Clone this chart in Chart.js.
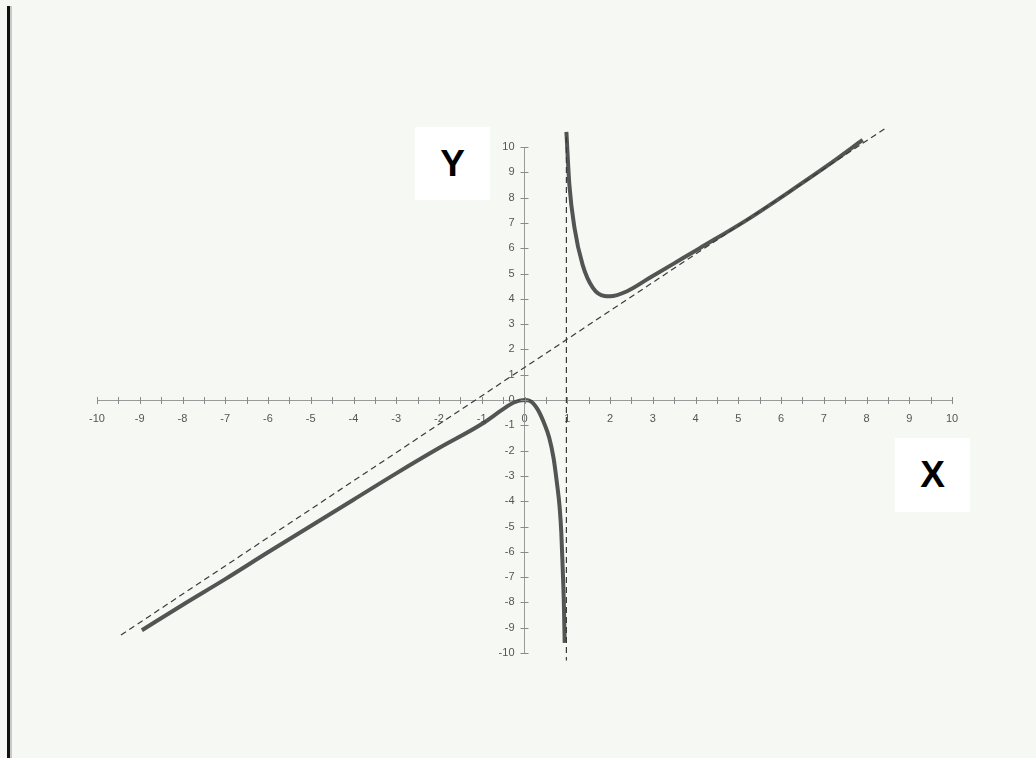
<!DOCTYPE html>
<html>
<head>
<meta charset="utf-8">
<script src="https://cdn.jsdelivr.net/npm/chart.js@4.4.1/dist/chart.umd.min.js"></script>
<style>
    html, body { margin: 0; padding: 0; }
    body { width: 1036px; height: 758px; background: #f6f9f3; position: relative; overflow: hidden; }
    #wrap { position: absolute; left: 0; top: 0; width: 1036px; height: 758px; }
    .edge { position: absolute; left: 7px; top: 6px; width: 3px; height: 752px; background: #111; border-right: 2px solid #c9c9c9; }
    .axisName { position: absolute; background: #ffffff; font: bold 37px 'Liberation Sans', Arial, sans-serif; color: #000;
                display: flex; align-items: center; justify-content: center; }
</style>
</head>
<body>
<div class="edge"></div>
<div id="wrap"><canvas id="curveChart"></canvas></div>
<div class="axisName" style="left:415px; top:127px; width:75px; height:73px;">Y</div>
<div class="axisName" style="left:895px; top:438px; width:75px; height:74px;">X</div>
<script>
// values
const leftX = [-8.95, -8, -7, -6, -5, -4, -3, -2, -1, -0.5, -0.25, 0, 0.12, 0.3, 0.45, 0.58, 0.68, 0.76, 0.82, 0.86, 0.89, 0.92, 0.94];
const leftY = [-9.1, -8.1, -7.08, -6.02, -4.98, -3.94, -2.9, -1.9, -0.95, -0.36, -0.1, 0, -0.03, -0.35, -0.88, -1.5, -2.3, -3.3, -4.2, -5.2, -6.5, -8.0, -9.6];
const rightX = [0.98, 1.05, 1.17, 1.36, 1.6, 1.87, 2.0, 2.4, 2.92, 3.5, 4.1, 5.27, 6.43, 7.2, 7.91];
const rightY = [10.6, 8.5, 6.8, 5.34, 4.43, 4.11, 4.1, 4.3, 4.82, 5.4, 6.0, 7.19, 8.5, 9.4, 10.28];
const slantX = [-9.44, 8.45];
const slantY = [-9.29, 10.75];
const asymX = [0.98, 0.98];
const asymY = [10.4, -10.3];
const xRange = [-10, 10];
const yRange = [-10, 10];

const labelFont = "11px 'Liberation Sans', Arial, sans-serif";

function pts(xs, ys) {
    return xs.map((x, i) => ({ x: x, y: ys[i] }));
}

// tick marks crossing the axis lines, plus the y labels left of the axis
const crossTicks = {
    id: 'crossTicks',
    afterDatasetsDraw(chart) {
        const ctx = chart.ctx;
        const sx = chart.scales.x, sy = chart.scales.y;
        const x0 = sx.getPixelForValue(0), y0 = sy.getPixelForValue(0);
        ctx.save();
        ctx.strokeStyle = '#8a8a8a';
        ctx.lineWidth = 1;
        ctx.beginPath();
        sx.ticks.forEach(t => {
            const px = Math.round(sx.getPixelForValue(t.value)) + 0.5;
            ctx.moveTo(px, y0 - 3);
            ctx.lineTo(px, y0 + 4);
        });
        sy.ticks.forEach(t => {
            const py = Math.round(sy.getPixelForValue(t.value)) + 0.5;
            ctx.moveTo(x0 - 4, py);
            ctx.lineTo(x0 + 4, py);
        });
        ctx.stroke();
        ctx.fillStyle = '#555';
        ctx.font = labelFont;
        ctx.textAlign = 'right';
        ctx.textBaseline = 'middle';
        sy.ticks.forEach(t => {
            ctx.fillText(t.label, x0 - 10, sy.getPixelForValue(t.value));
        });
        ctx.restore();
    }
};

const curveStyle = {
    showLine: true,
    borderColor: 'rgba(60, 60, 60, 0.88)',
    borderWidth: 4,
    pointRadius: 0,
    cubicInterpolationMode: 'monotone',
    clip: false
};
const dashStyle = {
    showLine: true,
    borderColor: '#3a3a3a',
    borderWidth: 1.2,
    borderDash: [6, 4],
    pointRadius: 0,
    clip: false
};

new Chart(document.getElementById('curveChart'), {
    type: 'scatter',
    data: {
        datasets: [
            Object.assign({ label: 'slant asymptote', data: pts(slantX, slantY) }, dashStyle),
            Object.assign({ label: 'vertical asymptote', data: pts(asymX, asymY) }, dashStyle),
            Object.assign({ label: 'left branch', data: pts(leftX, leftY) }, curveStyle),
            Object.assign({ label: 'right branch', data: pts(rightX, rightY) }, curveStyle)
        ]
    },
    options: {
        responsive: true,
        maintainAspectRatio: false,
        animation: false,
        layout: { padding: { left: 97, right: 84, top: 147, bottom: 105 } },
        plugins: {
            legend: { display: false },
            tooltip: { enabled: false }
        },
        scales: {
            x: {
                type: 'linear',
                min: xRange[0],
                max: xRange[1],
                position: { y: 0 },
                grid: { display: false },
                border: { display: true, color: '#9a9a9a', width: 1 },
                ticks: {
                    stepSize: 0.5,
                    autoSkip: false,
                    maxRotation: 0,
                    padding: 4,
                    color: '#555',
                    font: { family: "'Liberation Sans', Arial, sans-serif", size: 11 },
                    callback: function(value) {
                        return Number.isInteger(value) ? String(value) : '';
                    }
                }
            },
            y: {
                type: 'linear',
                min: yRange[0],
                max: yRange[1],
                position: { x: 0 },
                grid: { display: false },
                border: { display: true, color: '#9a9a9a', width: 1 },
                ticks: {
                    display: false,
                    stepSize: 1,
                    autoSkip: false
                }
            }
        }
    },
    plugins: [crossTicks]
});
</script>
</body>
</html>
